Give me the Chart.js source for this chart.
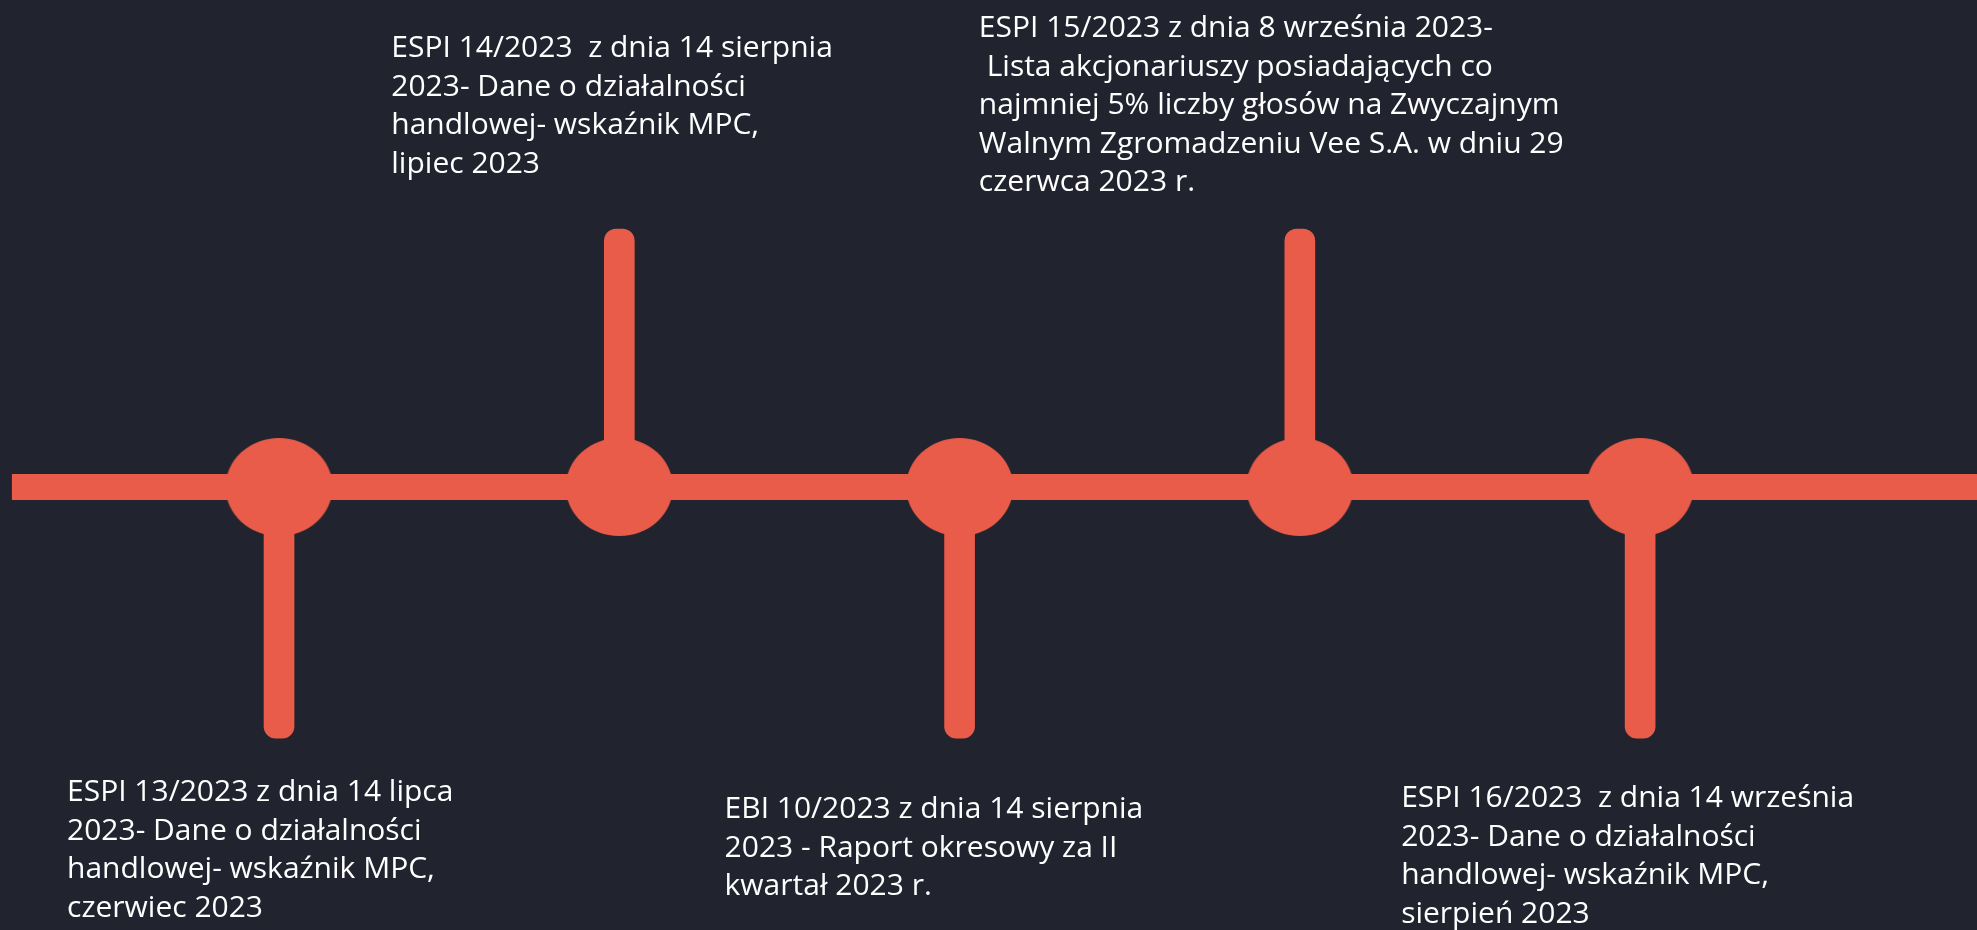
<!DOCTYPE html>
<html>
<head>
<meta charset="utf-8">
<script src="https://cdn.jsdelivr.net/npm/chart.js@4/dist/chart.umd.min.js"></script>
<style>
  html, body { margin: 0; padding: 0; background: #21242f; }
  canvas { display: block; }
</style>
</head>
<body>
<canvas id="timeline" width="1977" height="930"></canvas>
<script>
// events along the timeline (x = position on the axis)
const eventX = [1, 2, 3, 4, 5];
// stem length: positive = up, negative = down
const stemValues = [-0.973, 1, -0.973, 1, -0.973];
// horizontal axis line span
const lineX = [0.215, 6.2];
// texts of each event
const eventTexts = [
    ["ESPI 13/2023 z dnia 14 lipca", "2023- Dane o działalności", "handlowej- wskaźnik MPC,", "czerwiec 2023"],
    ["ESPI 14/2023  z dnia 14 sierpnia", "2023- Dane o działalności", "handlowej- wskaźnik MPC,", "lipiec 2023"],
    ["EBI 10/2023 z dnia 14 sierpnia", "2023 - Raport okresowy za II", "kwartał 2023 r."],
    ["ESPI 15/2023 z dnia 8 września 2023-", " Lista akcjonariuszy posiadających co", "najmniej 5% liczby głosów na Zwyczajnym", "Walnym Zgromadzeniu Vee S.A. w dniu 29", "czerwca 2023 r."],
    ["ESPI 16/2023  z dnia 14 września", "2023- Dane o działalności", "handlowej- wskaźnik MPC,", "sierpień 2023"]
];

const ORANGE = "#ea5c4a";
// label placement: offset from event pixel and first baseline
const labelDx = [-212, -228, -235, -321, -239];
const labelTop = [801, 57, 818, 37, 807];
const lineHeight = 38.5;

// ellipse marker drawn on an offscreen canvas
const dot = document.createElement("canvas");
dot.width = 107; dot.height = 98;
const dctx = dot.getContext("2d");
dctx.fillStyle = ORANGE;
dctx.beginPath();
dctx.ellipse(53.5, 49, 53.5, 49, 0, 0, Math.PI * 2);
dctx.fill();

const textPlugin = {
    id: "eventTexts",
    afterDatasetsDraw(chart) {
        const ctx = chart.ctx;
        const xs = chart.scales.x;
        ctx.save();
        ctx.fillStyle = "#ffffff";
        ctx.font = "30px 'Open Sans'";
        ctx.textBaseline = "alphabetic";
        ctx.textAlign = "left";
        eventTexts.forEach((lines, i) => {
            const px = xs.getPixelForValue(eventX[i]) + labelDx[i];
            lines.forEach((t, j) => {
                ctx.fillText(t, px, labelTop[i] + j * lineHeight);
            });
        });
        ctx.restore();
    }
};

new Chart(document.getElementById("timeline"), {
    type: "bar",
    data: {
        datasets: [
            {
                type: "scatter",
                data: eventX.map(x => ({x: x, y: 0})),
                pointStyle: dot,
                pointRadius: 50,
                pointHoverRadius: 50,
                order: 0
            },
            {
                type: "bar",
                data: eventX.map((x, i) => ({x: x, y: [0, stemValues[i]]})),
                backgroundColor: ORANGE,
                barThickness: 30,
                borderRadius: 12,
                borderSkipped: "start",
                grouped: false,
                order: 1
            },
            {
                type: "line",
                data: lineX.map(x => ({x: x, y: 0})),
                borderColor: ORANGE,
                borderWidth: 26,
                borderCapStyle: "butt",
                pointRadius: 0,
                order: 2
            }
        ]
    },
    options: {
        responsive: false,
        animation: false,
        layout: {padding: 0, autoPadding: false},
        plugins: {legend: {display: false}, tooltip: {enabled: false}},
        scales: {
            x: {type: "linear", display: false, min: 0.18, max: 5.99, offset: false},
            y: {type: "linear", display: false, min: -1.717, max: 1.888}
        }
    },
    plugins: [textPlugin]
});
</script>
</body>
</html>
